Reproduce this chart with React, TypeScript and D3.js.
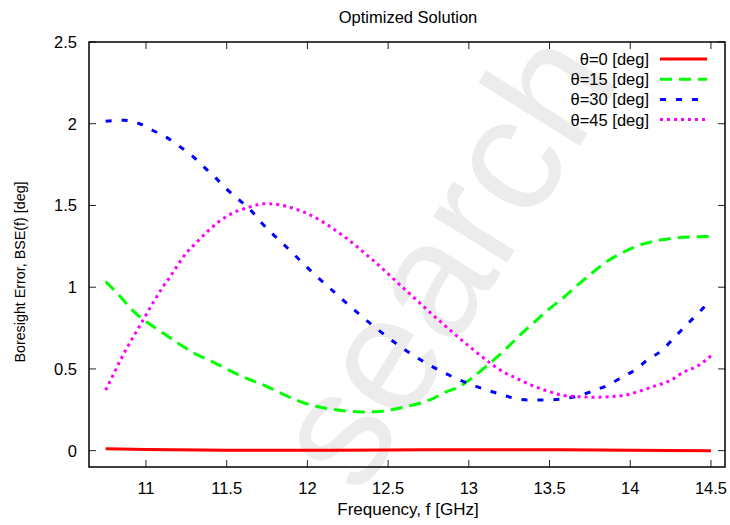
import React from "react";
import * as d3 from "d3";

const title = "Optimized Solution";
const xLabel = "Frequency, f [GHz]";
const yLabel = "Boresight Error, BSE(f) [deg]";
const xTicks = [11, 11.5, 12, 12.5, 13, 13.5, 14, 14.5];
const yTicks = [0, 0.5, 1, 1.5, 2, 2.5];
const seriesNames = ["θ=0 [deg]", "θ=15 [deg]", "θ=30 [deg]", "θ=45 [deg]"];

const freq0 = [10.75, 11.0, 11.5, 12.0, 12.5, 13.0, 13.5, 14.0, 14.5];
const val0 = [0.012, 0.007, 0.003, 0.002, 0.004, 0.006, 0.006, 0.003, 0.0];

const freq15 = [10.75, 10.79, 10.84, 10.92, 10.96, 11.0, 11.06, 11.12, 11.21, 11.31, 11.41, 11.52, 11.62, 11.74, 11.85, 11.9, 11.985, 12.06, 12.14, 12.24, 12.34, 12.43, 12.52, 12.615, 12.71, 12.78, 12.86, 12.94, 13.0, 13.1, 13.19, 13.255, 13.32, 13.4, 13.49, 13.575, 13.67, 13.75, 13.855, 13.97, 14.08, 14.195, 14.32, 14.47, 14.5];
const val15 = [1.035, 0.995, 0.943, 0.855, 0.82, 0.79, 0.75, 0.71, 0.65, 0.59, 0.545, 0.49, 0.443, 0.396, 0.345, 0.322, 0.29, 0.27, 0.255, 0.243, 0.237, 0.238, 0.25, 0.27, 0.294, 0.32, 0.36, 0.39, 0.43, 0.51, 0.586, 0.647, 0.71, 0.78, 0.86, 0.927, 1.01, 1.076, 1.157, 1.22, 1.264, 1.29, 1.305, 1.31, 1.31];

const freq30 = [10.75, 10.86, 10.96, 11.04, 11.13, 11.21, 11.29, 11.36, 11.43, 11.5, 11.57, 11.65, 11.71, 11.78, 11.85, 12.0, 12.2, 12.4, 12.6, 12.8, 13.0, 13.19, 13.3, 13.39, 13.48, 13.58, 13.68, 13.77, 13.86, 13.95, 14.03, 14.1, 14.2, 14.26, 14.33, 14.4, 14.47, 14.5];
const val30 = [2.015, 2.021, 2.0, 1.96, 1.915, 1.86, 1.8, 1.735, 1.67, 1.6, 1.54, 1.47, 1.4, 1.33, 1.265, 1.12, 0.94, 0.77, 0.62, 0.5, 0.41, 0.347, 0.317, 0.31, 0.31, 0.317, 0.335, 0.366, 0.4, 0.45, 0.494, 0.55, 0.617, 0.678, 0.75, 0.82, 0.89, 0.92];

const freq45 = [10.75, 10.8, 10.85, 10.9, 10.95, 11.0, 11.05, 11.1, 11.15, 11.2, 11.25, 11.31, 11.38, 11.45, 11.5, 11.54, 11.62, 11.675, 11.72, 11.77, 11.82, 11.87, 12.0, 12.2, 12.4, 12.6, 12.8, 13.0, 13.1, 13.21, 13.3, 13.39, 13.48, 13.575, 13.68, 13.77, 13.87, 13.97, 14.06, 14.15, 14.25, 14.33, 14.42, 14.5];
const val45 = [0.37, 0.47, 0.57, 0.66, 0.745, 0.83, 0.915, 0.995, 1.065, 1.14, 1.21, 1.27, 1.34, 1.4, 1.433, 1.455, 1.484, 1.5, 1.51, 1.51, 1.505, 1.495, 1.45, 1.33, 1.17, 0.99, 0.81, 0.64, 0.56, 0.484, 0.44, 0.4, 0.367, 0.34, 0.33, 0.327, 0.33, 0.34, 0.365, 0.395, 0.43, 0.48, 0.52, 0.58];

const W = 730;
const H = 525;
const M = { left: 89, right: 725, top: 42, bottom: 467 };
const FONT = "'Liberation Sans', Arial, Helvetica, sans-serif";

const styles = [
  { color: "#ff0000", dash: "" },
  { color: "#00ff00", dash: "12,7" },
  { color: "#0000ff", dash: "6,10" },
  { color: "#ff00ff", dash: "3,4" },
];

export default function App() {
  const x = d3.scaleLinear().domain([10.647, 14.587]).range([M.left, M.right]);
  const y = d3.scaleLinear().domain([-0.1, 2.5]).range([M.bottom, M.top]);
  const series = [
    { f: freq0, v: val0 },
    { f: freq15, v: val15 },
    { f: freq30, v: val30 },
    { f: freq45, v: val45 },
  ];
  const line = d3
    .line<[number, number]>()
    .x((d) => x(d[0]))
    .y((d) => y(d[1]))
    .curve(d3.curveMonotoneX);

  const tickLen = 7;
  return (
    <svg width={W} height={H} style={{ position: "absolute", left: 0, top: 0, background: "#fff" }} fontFamily={FONT}>
      <rect x={0} y={0} width={W} height={H} fill="#fff" />
      <text
        x={0}
        y={0}
        transform="translate(360,498) rotate(-58)"
        fontSize={165}
        fill="#000"
        fillOpacity={0.075}
        fontFamily={FONT}
      >
        search
      </text>
      {/* ticks */}
      {xTicks.map((t) => (
        <g key={"xt" + t}>
          <line x1={x(t)} x2={x(t)} y1={M.bottom} y2={M.bottom - tickLen} stroke="#222" strokeWidth={1} />
          <line x1={x(t)} x2={x(t)} y1={M.top} y2={M.top + tickLen} stroke="#222" strokeWidth={1} />
          <text x={x(t)} y={M.bottom + 27} textAnchor="middle" fontSize={16.5} fill="#000">
            {t}
          </text>
        </g>
      ))}
      {yTicks.map((t) => (
        <g key={"yt" + t}>
          <line x1={M.left} x2={M.left + tickLen} y1={y(t)} y2={y(t)} stroke="#222" strokeWidth={1} />
          <line x1={M.right} x2={M.right - tickLen} y1={y(t)} y2={y(t)} stroke="#222" strokeWidth={1} />
          <text x={M.left - 12} y={y(t) + 6} textAnchor="end" fontSize={16.5} fill="#000">
            {t}
          </text>
        </g>
      ))}
      {series.map((s, i) => (
        <path
          key={"s" + i}
          d={line(s.f.map((f, j) => [f, s.v[j]] as [number, number])) || ""}
          fill="none"
          stroke={styles[i].color}
          strokeWidth={3}
          strokeDasharray={styles[i].dash}
        />
      ))}
      {/* legend */}
      {seriesNames.map((n, i) => {
        const ly = 59 + i * 20.2;
        return (
          <g key={"lg" + i}>
            <text x={649} y={ly + 6} textAnchor="end" fontSize={16.5} fill="#000">
              {n}
            </text>
            <line
              x1={660}
              x2={707}
              y1={ly}
              y2={ly}
              stroke={styles[i].color}
              strokeWidth={3}
              strokeDasharray={styles[i].dash}
            />
          </g>
        );
      })}
      <rect
        x={M.left}
        y={M.top}
        width={M.right - M.left}
        height={M.bottom - M.top}
        fill="none"
        stroke="#000"
        strokeWidth={1.5}
      />
      <text x={408} y={23} textAnchor="middle" fontSize={16.5} fill="#000">
        {title}
      </text>
      <text x={408} y={515} textAnchor="middle" fontSize={17} fill="#000">
        {xLabel}
      </text>
      <text transform={`translate(25,272) rotate(-90)`} textAnchor="middle" fontSize={14.3} fill="#000">
        {yLabel}
      </text>
    </svg>
  );
}
